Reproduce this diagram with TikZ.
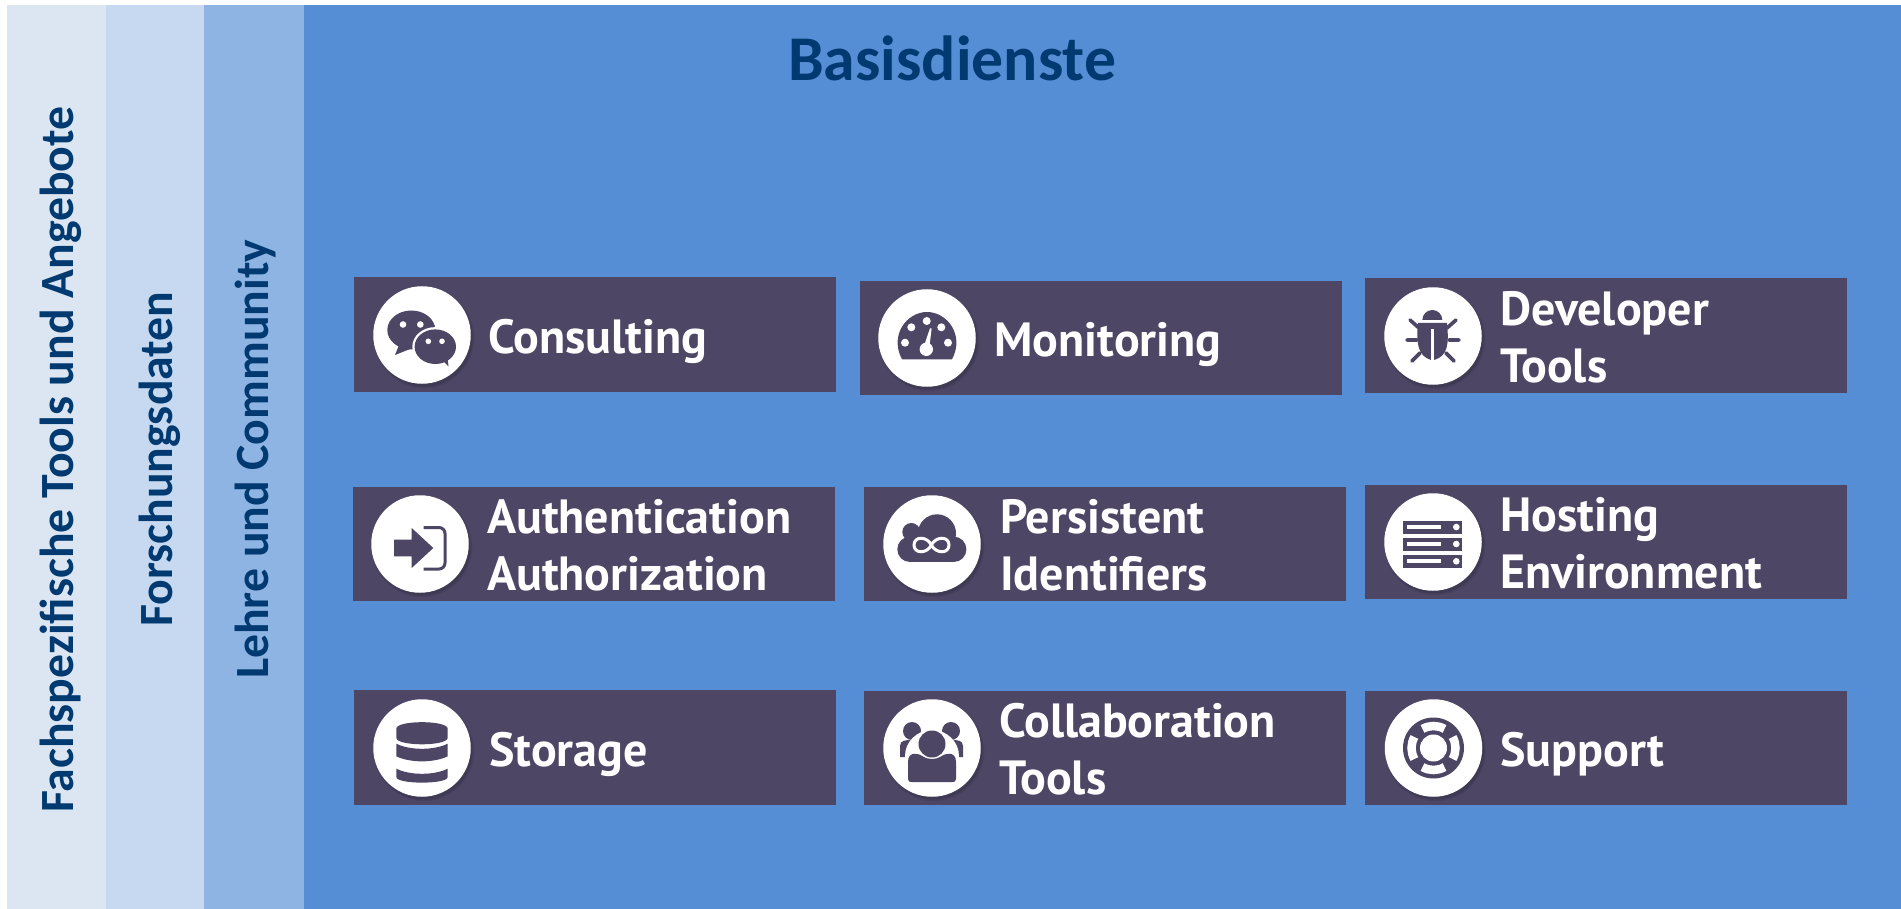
\documentclass[tikz,border=0pt]{standalone}
\usepackage{fontspec}
\setmainfont{Carlito}
\newfontfamily\svcfam{PT Sans}
\usetikzlibrary{calc}
\definecolor{stripa}{HTML}{DCE6F2}
\definecolor{stripb}{HTML}{C6D9F1}
\definecolor{stripc}{HTML}{8EB4E3}
\definecolor{mainblue}{HTML}{558ED5}
\definecolor{boxdark}{HTML}{4D4665}
\definecolor{headblue}{HTML}{003A70}
\tikzset{
  x=1pt,y=-1pt,
  band/.style={fill=#1,draw=none},
  bandtext/.style={text=headblue,font=\fontsize{47.7}{48}\selectfont\bfseries,rotate=90,anchor=base west,inner sep=0pt},
  titletext/.style={text=headblue,font=\fontsize{63.7}{64}\selectfont\bfseries,anchor=base west,inner sep=0pt},
  svcbox/.style={fill=boxdark,draw=none,inner sep=0pt,minimum width=482pt,minimum height=114.5pt},
  svctext/.style={text=white,font=\svcfam\fontsize{48}{57}\selectfont\bfseries,anchor=base west,inner sep=0pt,align=left},
  badge/.style={fill=white,draw=none,circle,inner sep=0pt,minimum size=97.5pt},
  ico/.style={fill=boxdark,draw=none},
  icow/.style={fill=white,draw=none},
}
\newcommand{\badgeat}[2]{%
  \foreach \r/\o in {50.5/.04,49.5/.06,48.5/.08}{\fill[black,opacity=\o] ($(#2)+(2,3)$) circle[radius=\r];}
  \node[badge] (#1) at (#2) {};
}
\begin{document}
\begin{tikzpicture}
\useasboundingbox (0,0) rectangle (1901,909);
\fill[white] (0,0) rectangle (1901,909);
\fill[band=stripa] (7,5) rectangle (106,909);
\fill[band=stripb] (106,5) rectangle (204,909);
\fill[band=stripc] (204,5) rectangle (304,909);
\fill[band=mainblue] (304,5) rectangle (1901,909);

\node[bandtext] (fach) at (73,813) {Fachspezifische Tools und Angebote};
\node[bandtext] (forsch) at (172,627) {Forschungsdaten};
\node[bandtext] (lehre) at (268,679) {Lehre und Community};
\node[titletext] (titel) at (788,81) {Basisdienste};

% boxes
\node[svcbox] (b1) at (595,334.5) {};
\node[svcbox] (b2) at (1100.5,338) {};
\node[svcbox] (b3) at (1606,335.5) {};
\node[svcbox] (b4) at (593.5,544) {};
\node[svcbox] (b5) at (1105,544) {};
\node[svcbox] (b6) at (1606,542) {};
\node[svcbox] (b7) at (595,747.5) {};
\node[svcbox] (b8) at (1105,748) {};
\node[svcbox] (b9) at (1606,748) {};

% badges
\badgeat{c1}{422,335}
\badgeat{c2}{927,338}
\badgeat{c3}{1433,336}
\badgeat{c4}{420,544}
\badgeat{c5}{932,544}
\badgeat{c6}{1433,542}
\badgeat{c7}{422,748}
\badgeat{c8}{932,748}
\badgeat{c9}{1433.5,748}

% labels
\node[svctext] (t1) at (488,353) {Consulting};
\node[svctext] (t2) at (994,356) {Monitoring};
\node[svctext] (t3) at (1500,382) {Developer\\Tools};
\node[svctext] (t4) at (487,590) {Authentication\\Authorization};
\node[svctext] (t5) at (1000,590) {Persistent\\Identifiers};
\node[svctext] (t6) at (1500,588) {Hosting\\Environment};
\node[svctext] (t7) at (489,766) {Storage};
\node[svctext] (t8) at (999,794) {Collaboration\\Tools};
\node[svctext] (t9) at (1500,766) {Support};

% chat
\begin{scope}[shift={(c1.center)}]
  \fill[ico] (-10.7,-5) ellipse[x radius=24,y radius=19.5];
  \fill[ico] (-23,10) -- (-27,20) -- (-12,14) -- cycle;
  \fill[icow] (-19,-10.5) circle[radius=3.3];
  \fill[icow] (-1.7,-10.5) circle[radius=3.3];
  \fill[icow] (13.3,11.7) ellipse[x radius=23,y radius=19.6];
  \fill[icow] (20,24) -- (28,34) -- (27,22) -- cycle;
  \fill[ico] (13.3,11.7) ellipse[x radius=20.7,y radius=17.3];
  \fill[ico] (19,24) -- (26.5,31.5) -- (25.5,22) -- cycle;
  \fill[icow] (6.3,6.3) circle[radius=2.8];
  \fill[icow] (20,6.3) circle[radius=2.8];
\end{scope}
% gauge
\begin{scope}[shift={(c2.center)}]
  \fill[ico] (-25,21.3) .. controls (-38,-3) and (-20,-26) .. (0,-26) .. controls (20,-26) and (38,-3) .. (25,21.3) -- cycle;
  \foreach \p in {(-15.7,-10.7),(-0.3,-17),(14.3,-10.7),(-22,4.7),(21,4.7)}{\fill[icow] \p circle[radius=4];}
  \fill[icow] (-0.7,11.3) circle[radius=6.7];
  \fill[icow] (-3.7,10) -- (3,-9.7) -- (4.6,-9.7) -- (2.3,10) -- cycle;
\end{scope}
% bug
\begin{scope}[shift={(c3.center)}]
  \fill[ico] (-10.7,-16) arc[start angle=180,end angle=360,radius=10] -- cycle;
  \fill[ico] (-15,-13) -- (14,-13) .. controls (16,8) and (15,20) .. (1,24) -- (-2,24) .. controls (-15,20) and (-17,8) .. (-15,-13) -- cycle;
  \fill[icow] (-1.9,-7) rectangle (0.7,24.5);
  \draw[boxdark,line width=3.6,line cap=round]
    (-23,-16) -- (-14,-8)
    (23,-16) -- (14,-8)
    (-26,4) -- (-16,4)
    (26,4) -- (16,4)
    (-21,25) -- (-13,17)
    (21,25) -- (13,17);
\end{scope}
% auth
\begin{scope}[shift={(c4.center)}]
  \fill[ico] (-26,-4.3) -- (-8.3,-4.3) -- (-8.3,-16) -- (13.3,4) -- (-8.3,24) -- (-8.3,12.3) -- (-26,12.3) -- cycle;
  \draw[boxdark,line width=3,rounded corners=6] (3.5,-16.5) -- (25,-16.5) -- (25,25) -- (3.5,25);
\end{scope}
% cloud
\begin{scope}[shift={(c5.center)}]
  \fill[ico] (5,-10.7) circle[radius=19];
  \fill[ico] (-20.7,-12) circle[radius=9];
  \fill[ico] (-22,5.3) circle[radius=12.7];
  \fill[ico] (21.7,5.3) circle[radius=12.7];
  \fill[ico] (-22,-7) rectangle (21.7,18);
  \draw[white,line width=3] (-0.7,1) .. controls (-5,-8) and (-18,-8) .. (-18,1)
    .. controls (-18,10) and (-5,10) .. (-0.7,1)
    .. controls (4,-8) and (17,-8) .. (17,1)
    .. controls (17,10) and (4,10) .. (-0.7,1);
\end{scope}
% servers
\begin{scope}[shift={(c6.center)}]
  \foreach \y in {-15,2,19.3}{
    \fill[ico] (-30,\y-6.5) rectangle (29.3,\y+6.5);
    \fill[icow] (-25.7,\y-2) rectangle (8.3,\y+2);
    \fill[icow] (23.3,\y) circle[radius=3.3];
  }
\end{scope}
% database
\begin{scope}[shift={(c7.center)}]
  \fill[ico] (-25.7,-19.3) .. controls (-25.7,-28) and (25.7,-28) .. (25.7,-19.3)
    -- (25.7,-10.3) .. controls (25.7,-1.5) and (-25.7,-1.5) .. (-25.7,-10.3) -- cycle;
  \fill[ico] (-25.7,-4.3) .. controls (-12,2.5) and (12,2.5) .. (25.7,-4.3)
    -- (25.7,8.3) .. controls (12,15) and (-12,15) .. (-25.7,8.3) -- cycle;
  \fill[ico] (-25.7,20.7) .. controls (-12,27.5) and (12,27.5) .. (25.7,20.7)
    -- (25.7,29) .. controls (25.7,36.5) and (-25.7,36.5) .. (-25.7,29) -- cycle;
\end{scope}
% people
\begin{scope}[shift={(c8.center)}]
  \fill[ico] (-20,-17) circle[radius=9];
  \fill[ico] (19,-17) circle[radius=9];
  \fill[ico] (-32,9) -- (-32,-2) .. controls (-32,-8) and (-26,-8) .. (-20,-8) -- (19,-8) .. controls (25,-8) and (31,-8) .. (31,-2) -- (31,9) -- cycle;
  \fill[icow] (0,8) ellipse[x radius=27,y radius=26];
  \fill[icow] (0,-4) circle[radius=16];
  \fill[ico] (0,-4) circle[radius=13.5];
  \fill[ico] (-24,31) -- (-24,14) .. controls (-24,2) and (-12,6) .. (-10,8) .. controls (-4,12) and (4,12) .. (10,8) .. controls (12,6) and (24,2) .. (24,14) -- (24,31) .. controls (24,34) and (22,34) .. (20,34) -- (-20,34) .. controls (-22,34) and (-24,34) .. (-24,31) -- cycle;
\end{scope}
% lifebuoy
\begin{scope}[shift={(c9.center)}]
  \fill[ico] (0,0) circle[radius=30.5];
  \fill[icow] (0,0) circle[radius=13.5];
  \foreach \a in {0,90,180,270}{
    \draw[white,line width=8.5] (\a-30:22) arc[start angle=\a-30,end angle=\a+30,radius=22];
  }
\end{scope}
\end{tikzpicture}
\end{document}
